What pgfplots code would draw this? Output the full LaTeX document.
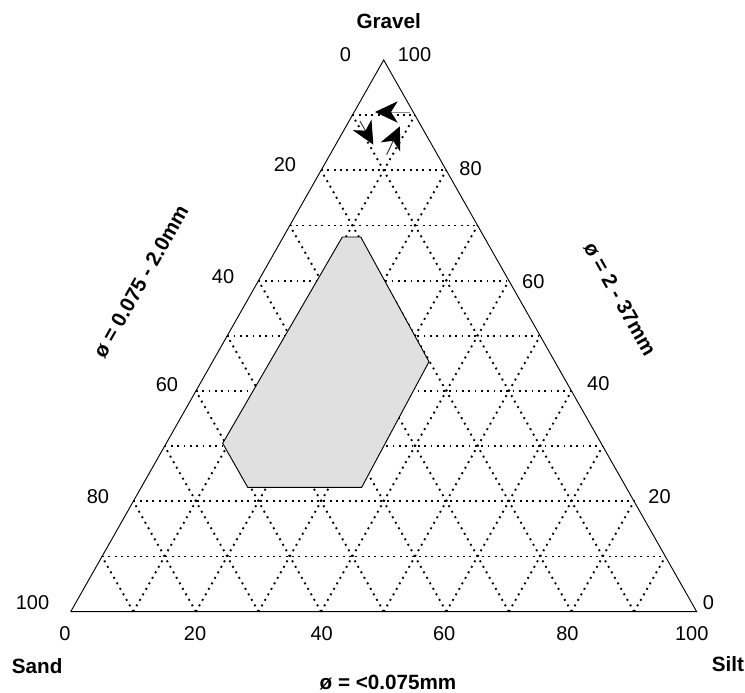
\documentclass[border=0pt]{standalone}
\usepackage{fontspec}
\setmainfont{Liberation Sans}
\usepackage{pgfplots}
\usepackage{pgfplotstable}
\pgfplotsset{compat=1.18}
\usetikzlibrary{arrows.meta}

% envelope in ternary units: silt (%), gravel (%)
\pgfplotstableread{
silt  gravel
9.43  67.92
12.37 67.92
34.58 45.31
35.21 22.55
17.00 22.55
9.02  30.52
9.43  67.92
}\envelope

\begin{document}
\begin{tikzpicture}[
  num/.style={font=\fontsize{15}{18}\selectfont, inner sep=0pt},
  ttl/.style={font=\bfseries\fontsize{15.5}{18}\selectfont, inner sep=0pt},
  grd/.style={black, line width=1.4pt, dash pattern=on 1.4pt off 3.35pt},
  arr/.style={draw=black!45, line width=0.7pt, mark=none,
    -{Stealth[black, length=17pt, width=16pt, inset=5pt]}}]
\path[use as bounding box] (-53.025pt,-60.225pt) rectangle (505.725pt,458.775pt);
\begin{axis}[
  at={(0pt,0pt)}, anchor=south west,
  scale only axis, width=469.5pt, height=413.775pt,
  xmin=0, xmax=100, ymin=0, ymax=100,
  axis lines=none, clip=false]

% dotted grid, every 10 %
\draw[grd] (5,10) -- (95,10);
\draw[grd] (10,20) -- (90,20);
\draw[grd] (15,30) -- (85,30);
\draw[grd] (20,40) -- (80,40);
\draw[grd] (25,50) -- (75,50);
\draw[grd] (30,60) -- (70,60);
\draw[grd] (35,70) -- (65,70);
\draw[grd] (40,80) -- (60,80);
\draw[grd] (45,90) -- (55,90);
\draw[grd] (10,0) -- (55,90);
\draw[grd] (20,0) -- (60,80);
\draw[grd] (30,0) -- (65,70);
\draw[grd] (40,0) -- (70,60);
\draw[grd] (50,0) -- (75,50);
\draw[grd] (60,0) -- (80,40);
\draw[grd] (70,0) -- (85,30);
\draw[grd] (80,0) -- (90,20);
\draw[grd] (90,0) -- (95,10);
\draw[grd] (10,0) -- (5,10);
\draw[grd] (20,0) -- (10,20);
\draw[grd] (30,0) -- (15,30);
\draw[grd] (40,0) -- (20,40);
\draw[grd] (50,0) -- (25,50);
\draw[grd] (60,0) -- (30,60);
\draw[grd] (70,0) -- (35,70);
\draw[grd] (80,0) -- (40,80);
\draw[grd] (90,0) -- (45,90);

\addplot[draw=black, line width=0.7pt, fill=black!12, mark=none]
  table[x expr=\thisrow{silt}+0.5*\thisrow{gravel}, y=gravel] {\envelope};

% triangle
\addplot[black, line width=0.7pt, mark=none] coordinates {(0,0) (100,0) (50,100) (0,0)};

% arrows near the gravel corner
\addplot[arr] coordinates {(54.20,90.57) (48.61,90.57)};
\addplot[arr, draw=black!80] coordinates {(46.21,88.94) (48.34,84.65)};
\addplot[arr, draw=black!80] coordinates {(50.48,82.84) (52.60,87.98)};

% corner names and axis titles
\node[ttl] at (axis cs:50.81,107.07) {Gravel};
\node[ttl] at (axis cs:-5.35,-9.79) {Sand};
\node[ttl] at (axis cs:105.0,-9.48) {Silt};
\node[ttl] at (axis cs:50.69,-12.8) {ø = <0.075mm};
\node[ttl, rotate=60.5] at (axis cs:11.2,59.81) {ø = 0.075 - 2.0mm};
\node[ttl, rotate=-60.5] at (axis cs:87.75,56.68) {ø = 2 - 37mm};

% tick labels
\node[num] at (axis cs:43.87,100.9) {0};
\node[num] at (axis cs:54.92,100.9) {100};
\node[num] at (axis cs:34.23,80.97) {20};
\node[num] at (axis cs:24.33,60.67) {40};
\node[num] at (axis cs:15.38,41.09) {60};
\node[num] at (axis cs:4.36,20.79) {80};
\node[num] at (axis cs:-6.10,1.67) {100};
\node[num] at (axis cs:63.87,80.24) {80};
\node[num] at (axis cs:73.90,59.81) {60};
\node[num] at (axis cs:84.28,41.40) {40};
\node[num] at (axis cs:94.06,20.84) {20};
\node[num] at (axis cs:101.88,1.67) {0};
\node[num] at (axis cs:-0.91,-4.0) {0};
\node[num] at (axis cs:19.86,-4.0) {20};
\node[num] at (axis cs:40.10,-4.0) {40};
\node[num] at (axis cs:59.66,-4.0) {60};
\node[num] at (axis cs:79.36,-4.0) {80};
\node[num] at (axis cs:99.20,-4.0) {100};
\end{axis}
\end{tikzpicture}
\end{document}
